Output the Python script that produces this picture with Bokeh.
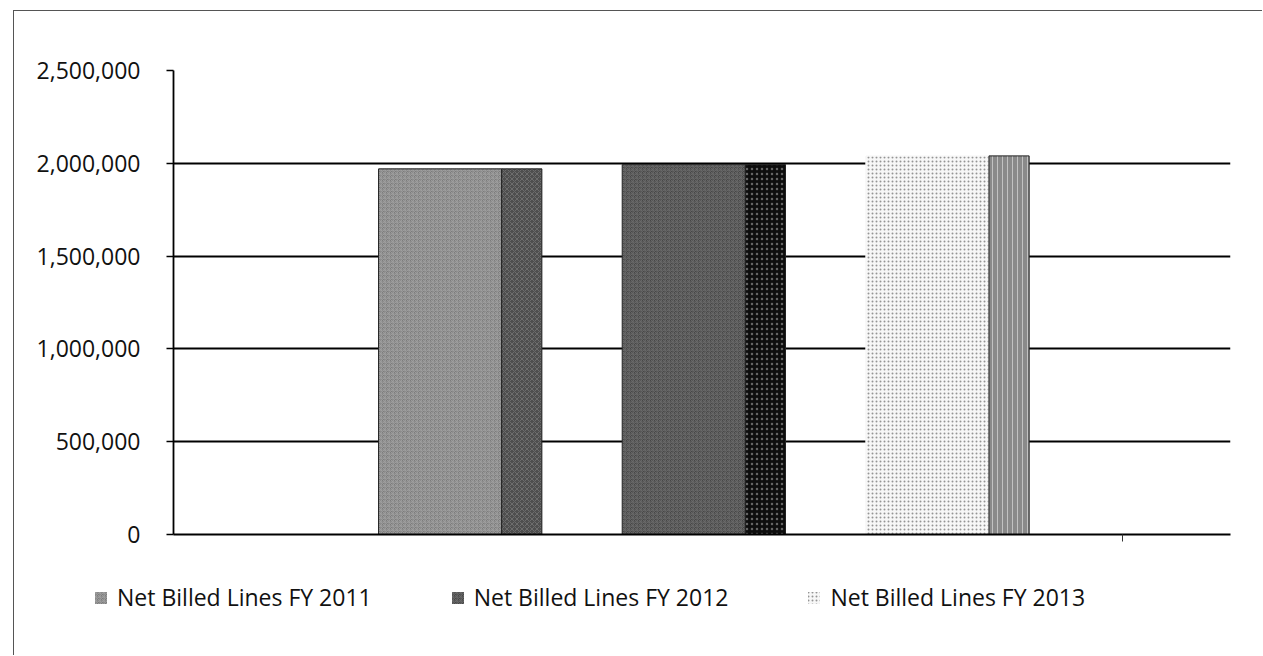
from bokeh.plotting import figure
from bokeh.layouts import column
from bokeh.models import Range1d, NumeralTickFormatter, FixedTicker, Legend, LegendItem
from bokeh.embed import file_html
from bokeh.resources import INLINE

# ---- data ----
series = ["Net Billed Lines FY 2011", "Net Billed Lines FY 2012", "Net Billed Lines FY 2013"]
values = [1970000, 1993000, 2040000]
y_ticks = [0, 500000, 1000000, 1500000, 2000000, 2500000]

# ---- styles ----
front_fill = ["#7c7c7c", "#474747", "#f7f7f7"]
front_hatch = ["criss_cross", "criss_cross", "dot"]
front_hatch_color = ["#a0a0a0", "#6a6a6a", "#8a8a8a"]
front_line = ["#222222", "#2a2a2a", "#f7f7f7"]
side_fill = ["#4e4e4e", "#0e0e0e", "#8a8a8a"]
side_hatch = ["diagonal_cross", "dot", "vertical_line"]
side_hatch_color = ["#747474", "#7a7a7a", "#cfcfcf"]

first_left = 0.194
step = 0.2305
front_w = 0.1165
side_w = 0.038

W = 1248
p = figure(width=W, height=555, x_range=Range1d(0, 1), y_range=Range1d(0, 2500000),
           output_backend="svg", toolbar_location=None,
           min_border_left=159, min_border_right=32, min_border_top=59, min_border_bottom=32)
p.outline_line_color = None

for i, (name, v) in enumerate(zip(series, values)):
    left = first_left + i * step
    p.quad(left=left, right=left + front_w, bottom=0, top=v,
           fill_color=front_fill[i], line_color=front_line[i], line_width=1,
           hatch_pattern=front_hatch[i], hatch_color=front_hatch_color[i],
           hatch_scale=4, hatch_weight=1, hatch_alpha=0.9)
    p.quad(left=left + front_w, right=left + front_w + side_w, bottom=0, top=v,
           fill_color=side_fill[i], line_color="#222222", line_width=1,
           hatch_pattern=side_hatch[i], hatch_color=side_hatch_color[i],
           hatch_scale=5, hatch_weight=1, hatch_alpha=0.8)

# y axis
p.yaxis.ticker = FixedTicker(ticks=y_ticks)
p.yaxis.formatter = NumeralTickFormatter(format="0,0")
p.yaxis.major_label_text_font = "Open Sans"
p.yaxis.major_label_text_font_size = "23px"
p.yaxis.major_label_text_color = "#111111"
p.yaxis.major_tick_out = 7
p.yaxis.major_tick_in = 0
p.yaxis.minor_tick_line_color = None
p.yaxis.major_label_standoff = 26
p.yaxis.axis_line_color = "black"
p.yaxis.axis_line_width = 1.8
p.yaxis.major_tick_line_color = "black"
p.yaxis.major_tick_line_width = 1.5

# x axis (no labels, one depth tick)
p.xaxis.ticker = FixedTicker(ticks=[0.898])
p.xaxis.major_label_text_color = None
p.xaxis.major_label_text_font_size = "1px"
p.xaxis.major_tick_out = 7
p.xaxis.major_tick_in = 0
p.xaxis.minor_tick_line_color = None
p.xaxis.axis_line_color = "black"
p.xaxis.axis_line_width = 1.8
p.xaxis.major_tick_line_color = "#333333"

p.xgrid.visible = False
p.ygrid.ticker = FixedTicker(ticks=y_ticks)
p.ygrid.grid_line_color = "black"
p.ygrid.grid_line_width = 1.8
p.ygrid.level = "underlay"

# legend strip (separate figure so the legend is not clipped by the chart frame)
q = figure(width=W, height=89, x_range=Range1d(0, 1), y_range=Range1d(0, 1),
           output_backend="svg", toolbar_location=None,
           x_axis_location=None, y_axis_location=None,
           min_border_left=0, min_border_right=0, min_border_top=0, min_border_bottom=0)
q.outline_line_color = None
q.grid.visible = False
for fig in (p, q):
    if "frame_align" in fig.properties():
        fig.frame_align = False

items = []
for i, name in enumerate(series):
    # zero-area proxy glyphs that only supply the legend swatch style
    proxy = q.quad(left=[0], right=[0], bottom=[0], top=[0],
                   fill_color=front_fill[i], line_color=None,
                   hatch_pattern=front_hatch[i], hatch_color=front_hatch_color[i],
                   hatch_scale=4, hatch_weight=1, hatch_alpha=0.9)
    items.append(LegendItem(label=name, renderers=[proxy]))

legend = Legend(items=items, orientation="horizontal", location=(79, 42),
                spacing=78, label_standoff=9, glyph_width=15, glyph_height=15,
                padding=0, margin=0, border_line_color=None, background_fill_alpha=0,
                label_text_font="Open Sans", label_text_font_size="23px",
                label_text_color="#111111")
q.add_layout(legend)

layout = column(p, q, spacing=0)
layout.styles = {"border-left": "1px solid #555555", "border-top": "1px solid #555555",
                 "margin-left": "13px", "margin-top": "10px"}

open("out.html", "w").write(file_html(layout, INLINE))
